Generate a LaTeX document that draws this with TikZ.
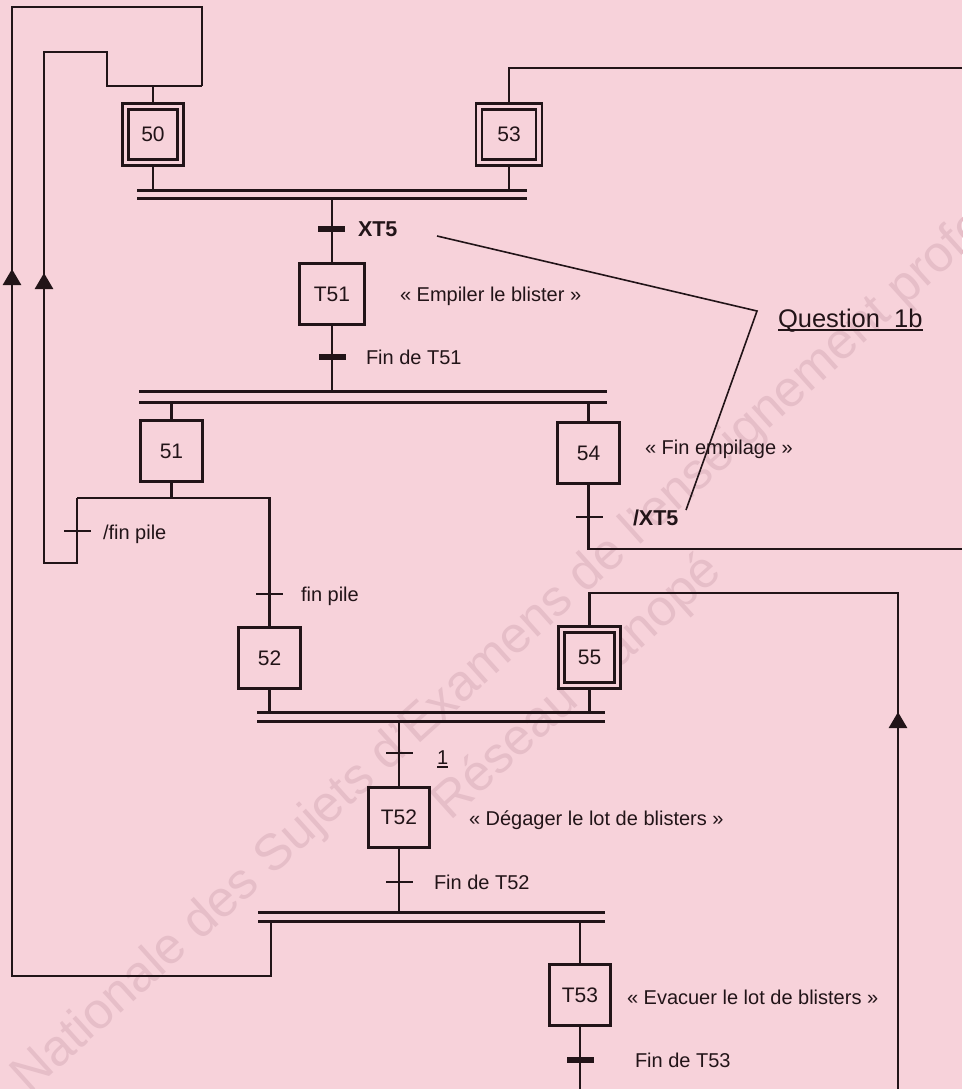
\documentclass[tikz,border=0pt]{standalone}
\usepackage{fontspec}
\setmainfont{Liberation Sans}
\usetikzlibrary{arrows.meta}
\definecolor{bgpink}{RGB}{247,210,218}
\definecolor{ink}{RGB}{34,20,24}
\definecolor{wmark}{RGB}{230,190,200}
\pgfdeclarelayer{back}
\pgfdeclarelayer{wires}
\pgfsetlayers{back,wires,main}
\begin{document}
\begin{tikzpicture}[x=1pt,y=-1pt,
  every node/.style={inner sep=0pt,outer sep=0pt},
  link/.style={draw=ink,line width=2.7pt},
  stepbox/.style={draw=ink,fill=bgpink,line width=2.8pt,minimum width=62.2pt,minimum height=61.2pt,text=ink,font=\fontsize{21}{25}\selectfont},
  initbox/.style={stepbox,double=bgpink,double distance=3.2pt,minimum width=55.2pt,minimum height=56.2pt},
  bar/.style={draw=ink,line width=3pt},
  thintick/.style={fill=ink,minimum width=27pt,minimum height=2.8pt},
  boldtick/.style={fill=ink,minimum width=27pt,minimum height=5.2pt},
  lbl/.style={anchor=west,text=ink,font=\fontsize{20}{24}\selectfont,text height=14.3pt,text depth=0pt},
  blbl/.style={lbl,font=\fontsize{21.5}{25}\selectfont\bfseries,text height=15.4pt},
  qlbl/.style={anchor=west,text=ink,font=\fontsize{25.5}{30}\selectfont,text height=18.2pt,text depth=0pt},
  ul/.style={draw=ink,line width=1.7pt},
  upa/.style={draw=ink,line width=2.7pt,-{Triangle[width=18pt,length=16pt]}},
  leader/.style={draw=ink,line width=1.6pt},
  wm/.style={text=wmark,font=\fontsize{51}{60}\selectfont,rotate=42},
]
\useasboundingbox (0,0) rectangle (962,1089);
\begin{pgfonlayer}{back}
\fill[bgpink] (0,0) rectangle (962,1089);
\begin{scope}
\clip (0,0) rectangle (962,1089);
\node[wm,anchor=base west] (wm1) at (-67,1182) {Base Nationale des Sujets d'Examens de l'enseignement professionnel};
\node[wm,anchor=center] (wm2) at (578,688) {Réseau Canopé};
\end{scope}
\end{pgfonlayer}

% steps
\node[initbox] (s50) at (153,134.5) {50};
\node[initbox,minimum width=60pt] (s53) at (509,134.5) {53};
\node[stepbox,minimum width=65.2pt] (t51) at (332,294) {T51};
\node[stepbox] (s51) at (171.5,451) {51};
\node[stepbox] (s54) at (588.5,453) {54};
\node[stepbox] (s52) at (269.5,658) {52};
\node[initbox,minimum width=56.4pt] (s55) at (589.5,657.5) {55};
\node[stepbox,minimum width=61.2pt,minimum height=60.2pt] (t52) at (399,817.5) {T52};
\node[stepbox,minimum width=61.2pt] (t53) at (580,995) {T53};

% synchronisation bars
\coordinate (b1t) at (137,190); \coordinate (b1te) at (527,190);
\coordinate (b1b) at (137,198); \coordinate (b1be) at (527,198);
\coordinate (b2t) at (139,391); \coordinate (b2te) at (607,391);
\coordinate (b2b) at (139,402); \coordinate (b2be) at (607,402);
\coordinate (b3t) at (257,712); \coordinate (b3te) at (605,712);
\coordinate (b3b) at (257,721); \coordinate (b3be) at (605,721);
\coordinate (b4t) at (258,912); \coordinate (b4te) at (605,912);
\coordinate (b4b) at (258,921); \coordinate (b4be) at (605,921);
\draw[bar] (b1t) -- (b1te); \draw[bar] (b1b) -- (b1be);
\draw[bar] (b2t) -- (b2te); \draw[bar] (b2b) -- (b2be);
\draw[bar] (b3t) -- (b3te); \draw[bar] (b3b) -- (b3be);
\draw[bar] (b4t) -- (b4te); \draw[bar] (b4b) -- (b4be);

% transitions and labels
\node[boldtick] (tr1) at (331,229) {};
\node[blbl] (c1) at (358,229) {XT5};
\node[lbl] (a51) at (400,294) {« Empiler le blister »};
\node[boldtick] (tr2) at (332,357) {};
\node[lbl] (c2) at (366,357) {Fin de T51};
\node[thintick] (tr3) at (77,531) {};
\node[lbl] (c3) at (103,532) {/fin pile};
\node[thintick] (tr4) at (269.5,594) {};
\node[lbl] (c4) at (301,594) {fin pile};
\node[lbl] (a54) at (645,447) {« Fin empilage »};
\node[thintick] (tr5) at (589,517) {};
\node[blbl] (c5) at (633,518) {/XT5};
\node[thintick] (tr6) at (399,753) {};
\node[lbl] (c6) at (437,757) {1};
\draw[ul] ([yshift=-3pt]c6.base west) -- ([yshift=-3pt]c6.base east);
\node[lbl] (a52) at (469,818) {« Dégager le lot de blisters »};
\node[thintick] (tr7) at (399,882) {};
\node[lbl] (c7) at (434,882) {Fin de T52};
\node[lbl] (a53) at (627,997) {« Evacuer le lot de blisters »};
\node[boldtick] (tr8) at (580,1060) {};
\node[lbl] (c8) at (635,1060) {Fin de T53};
\node[qlbl] (q) at (778,318) {Question\ \ 1b};
\draw[ul] ([yshift=-3pt]q.base west) -- ([yshift=-3pt]q.base east);

% free ends and junctions
\coordinate (e53) at (962,68);
\coordinate (e54) at (962,549);
\coordinate (j55) at (898,593);
\coordinate (e55) at (898,1089);
\coordinate (eT53) at (580,1089);
\coordinate (j50) at (153,86);
\coordinate (d1L) at (77,498);
\coordinate (d1R) at (269.5,498);
\coordinate (qv) at (757,311);
\coordinate (q1) at (437,236);
\coordinate (q2) at (686,510);

\begin{pgfonlayer}{wires}
\draw[link] (s50.south) -- (s50.south |- b1t);
\draw[link] (s53.south) -- (s53.south |- b1t);
\draw[link] (s53.north) |- (e53);
\draw[link] (s50.north) -- (j50);
\draw[link] (t51.north |- b1b) -- (t51.north);
\draw[link] (t51.south) -- (t51.south |- b2t);
\draw[link] (s51.north |- b2b) -- (s51.north);
\draw[link] (s54.north |- b2b) -- (s54.north);
\draw[link] (s51.south) -- (s51.south |- d1L);
\draw[link] (d1L) -- (d1R) -- (s52.north);
\draw[link] (d1L) -- (77,563) -- (44,563) -- (44,52) -- (107,52) -- (107,86) -- (202,86);
\draw[link] (271,921) -- (271,976) -- (12,976) -- (12,7) -- (202,7) -- (202,86);
\draw[link] (s54.south) |- (e54);
\draw[link] (s52.south) -- (s52.south |- b3t);
\draw[link] (s55.south) -- (s55.south |- b3t);
\draw[link] (s55.north) |- (j55) -- (e55);
\draw[link] (t52.north |- b3b) -- (t52.north);
\draw[link] (t52.south) -- (t52.south |- b4t);
\draw[link] (t53.north |- b4b) -- (t53.north);
\draw[link] (t53.south) -- (eT53);
\end{pgfonlayer}

% arrowheads on the return lines
\draw[upa] (12,300) -- (12,269);
\draw[upa] (44,305) -- (44,273);
\draw[upa] (898,745) -- (898,712);

% leader lines to the question
\draw[leader] (q1) -- (qv) -- (q2);
\end{tikzpicture}
\end{document}
